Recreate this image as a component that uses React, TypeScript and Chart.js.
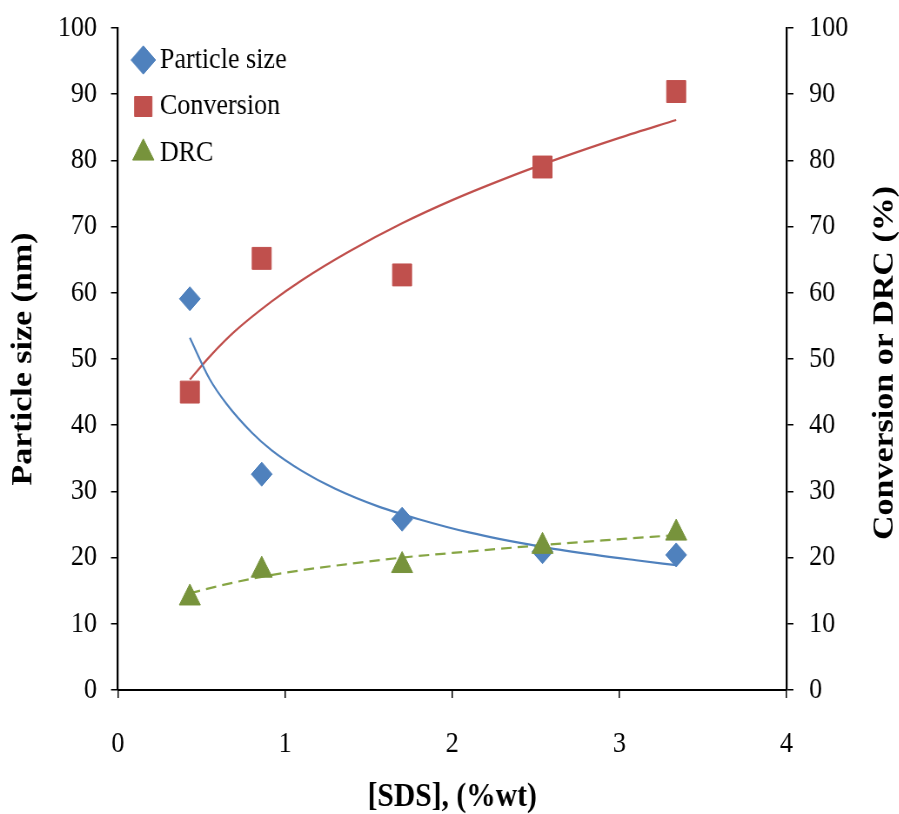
import React, { useEffect, useRef } from "react";
import { Chart, registerables } from "chart.js";

Chart.register(...registerables);

// ---- data ----
const SDS = [0.43, 0.86, 1.7, 2.54, 3.34];
const PARTICLE_SIZE = [59.1, 32.6, 25.8, 20.9, 20.4];
const CONVERSION = [45.0, 65.2, 62.7, 79.0, 90.4];
const DRC = [13.9, 18.1, 18.8, 21.7, 23.7];

// trend lines
const PS_FIT_X = [0.43, 0.55, 0.65, 0.8, 0.92, 1.1, 1.3, 1.56, 1.8, 2.1, 2.52, 2.8, 3.1, 3.34];
const PS_FIT_Y = [53.2, 46.9, 43.2, 38.9, 36.2, 33.1, 30.4, 27.7, 25.8, 23.8, 21.7, 20.6, 19.6, 18.85];
const CONV_FIT_X = [0.43, 0.55, 0.7, 0.92, 1.1, 1.38, 1.7, 2.0, 2.3, 2.64, 3.0, 3.34];
const CONV_FIT_Y = [46.9, 50.4, 54.2, 58.7, 61.9, 66.2, 70.5, 74.0, 77.1, 80.3, 83.4, 86.1];
const DRC_FIT_X = [0.43, 0.6, 0.86, 1.1, 1.4, 1.7, 2.0, 2.5, 2.9, 3.34];
const DRC_FIT_Y = [14.6, 15.7, 17.1, 18.1, 19.1, 20.0, 20.7, 21.8, 22.6, 23.4];

const X_TICKS = [0, 1, 2, 3, 4];
const Y_TICKS = [0, 10, 20, 30, 40, 50, 60, 70, 80, 90, 100];

const SERIES_NAMES = ["Particle size", "Conversion", "DRC"];
const X_TITLE = "[SDS], (%wt)";
const Y_TITLE = "Particle size (nm)";
const Y2_TITLE = "Conversion or DRC (%)";

// ---- styling ----
const FONT = '"Liberation Serif", "Times New Roman", serif';
const BLUE = "#4F81BD";
const RED = "#C0504D";
const GREEN = "#77933C";
const GREEN_LINE = "#86A544";

const SX = 0.87; // horizontal compression of the original picture
const CW = 1033;
const CH = 814;

const pts = (xs: number[], ys: number[]) => xs.map((x, i) => ({ x, y: ys[i] }));

const rightTitlePlugin = {
  id: "rightTitle",
  afterDraw(chart: any) {
    const ctx = chart.ctx;
    const a = chart.chartArea;
    ctx.save();
    ctx.font = `bold 34px ${FONT}`;
    ctx.fillStyle = "#000";
    ctx.translate(1017, (a.top + a.bottom) / 2 + 4);
    ctx.rotate(-Math.PI / 2);
    ctx.textAlign = "center";
    ctx.textBaseline = "middle";
    ctx.fillText(Y2_TITLE, 0, 0);
    ctx.restore();
  },
};

const legendPlacer = {
  id: "legendPlacer",
  beforeDraw(chart: any) {
    const lg = chart.legend;
    if (!lg) return;
    lg.left = chart.chartArea.left + 8.6;
    lg.top = chart.chartArea.top + 0.5;
    lg.right = lg.left + 400;
    lg.bottom = lg.top + 300;
    lg.width = 400;
    lg.height = 300;
  },
};

export default function App() {
  const ref = useRef<HTMLCanvasElement>(null);

  useEffect(() => {
    if (!ref.current) return;
    const tickFont = { family: FONT, size: 30 };
    const titleFont = { family: FONT, size: 34, weight: "bold" as const, lineHeight: 1 };
    const noPad = (s: any) => {
      s.paddingTop = 0;
      s.paddingBottom = 0;
      s.paddingLeft = 0;
      s.paddingRight = 0;
    };
    const fitLine = (label: string, xs: number[], ys: number[], axis: string, color: string, dash: number[]) => ({
      label,
      data: pts(xs, ys),
      yAxisID: axis,
      showLine: true,
      pointRadius: 0,
      borderColor: color,
      backgroundColor: color,
      borderWidth: 2.2,
      borderDash: dash,
      cubicInterpolationMode: "monotone",
      order: 10,
    });

    const chart = new Chart(ref.current, {
      type: "scatter",
      data: {
        datasets: [
          {
            label: SERIES_NAMES[0],
            data: pts(SDS, PARTICLE_SIZE),
            yAxisID: "y",
            pointStyle: "rectRot",
            pointRadius: 12,
            backgroundColor: BLUE,
            borderColor: BLUE,
            borderWidth: 1,
            order: 2,
          },
          {
            label: SERIES_NAMES[1],
            data: pts(SDS, CONVERSION),
            yAxisID: "y1",
            pointStyle: "rect",
            pointRadius: 15.5,
            backgroundColor: RED,
            borderColor: RED,
            borderWidth: 1,
            order: 1,
          },
          {
            label: SERIES_NAMES[2],
            data: pts(SDS, DRC),
            yAxisID: "y1",
            pointStyle: "triangle",
            pointRadius: 14,
            backgroundColor: GREEN,
            borderColor: GREEN,
            borderWidth: 1,
            order: 0,
          },
          fitLine("PS fit", PS_FIT_X, PS_FIT_Y, "y", BLUE, []),
          fitLine("Conversion fit", CONV_FIT_X, CONV_FIT_Y, "y1", RED, []),
          fitLine("DRC fit", DRC_FIT_X, DRC_FIT_Y, "y1", GREEN_LINE, [12, 7]),
        ],
      },
      options: {
        responsive: false,
        animation: false,
        devicePixelRatio: 1,
        events: [],
        layout: { padding: { top: 28, left: 0, right: 0, bottom: 0 } },
        plugins: {
          tooltip: { enabled: false },
          legend: {
            display: true,
            position: "chartArea" as any,
            align: "start",
            labels: {
              usePointStyle: true,
              boxWidth: 8,
              boxHeight: 20,
              padding: 16.5,
              color: "#000",
              font: { family: FONT, size: 30 },
              filter: (item: any) => item.datasetIndex < 3,
              sort: (a: any, b: any) => a.datasetIndex - b.datasetIndex,
            },
          },
        },
        scales: {
          x: {
            type: "linear",
            position: "bottom",
            min: 0,
            max: 4,
            afterBuildTicks: (s: any) => {
              s.ticks = X_TICKS.map((v) => ({ value: v }));
            },
            afterFit: (s: any) => {
              s.height = 124;
              noPad(s);
            },
            grid: { drawOnChartArea: false, drawTicks: true, tickLength: 8, color: "#000", lineWidth: 1.5 },
            border: { display: true, color: "#000", width: 2 },
            ticks: { font: tickFont, color: "#000", padding: 28, maxRotation: 0 },
            title: { display: true, text: X_TITLE, color: "#000", font: titleFont, padding: { top: 0, bottom: 0 } },
          },
          y: {
            type: "linear",
            position: "left",
            min: 0,
            max: 100,
            afterBuildTicks: (s: any) => {
              s.ticks = Y_TICKS.map((v) => ({ value: v }));
            },
            afterFit: (s: any) => {
              s.width = 135.6;
              noPad(s);
            },
            grid: { drawOnChartArea: false, drawTicks: true, tickLength: 8, color: "#000", lineWidth: 1.5 },
            border: { display: true, color: "#000", width: 2.3 },
            ticks: { font: tickFont, color: "#000", padding: 16 },
            title: { display: true, text: Y_TITLE, color: "#000", font: titleFont, padding: { top: 10, bottom: 0 } },
          },
          y1: {
            type: "linear",
            position: "right",
            min: 0,
            max: 100,
            afterBuildTicks: (s: any) => {
              s.ticks = Y_TICKS.map((v) => ({ value: v }));
            },
            afterFit: (s: any) => {
              s.width = 129;
              noPad(s);
            },
            grid: { drawOnChartArea: false, drawTicks: true, tickLength: 8, color: "#000", lineWidth: 1.5 },
            border: { display: true, color: "#000", width: 2.3 },
            ticks: { font: tickFont, color: "#000", padding: 18 },
            title: { display: false, text: Y2_TITLE },
          },
        },
      },
      plugins: [legendPlacer, rightTitlePlugin],
    } as any);

    return () => chart.destroy();
  }, []);

  return (
    <div
      style={{
        position: "fixed",
        left: 0,
        top: 0,
        width: 899,
        height: 814,
        overflow: "hidden",
        background: "#fff",
      }}
    >
      <div style={{ width: CW, height: CH, transform: `scaleX(${SX})`, transformOrigin: "0 0" }}>
        <canvas ref={ref} width={CW} height={CH} style={{ display: "block", width: CW, height: CH }} />
      </div>
    </div>
  );
}
